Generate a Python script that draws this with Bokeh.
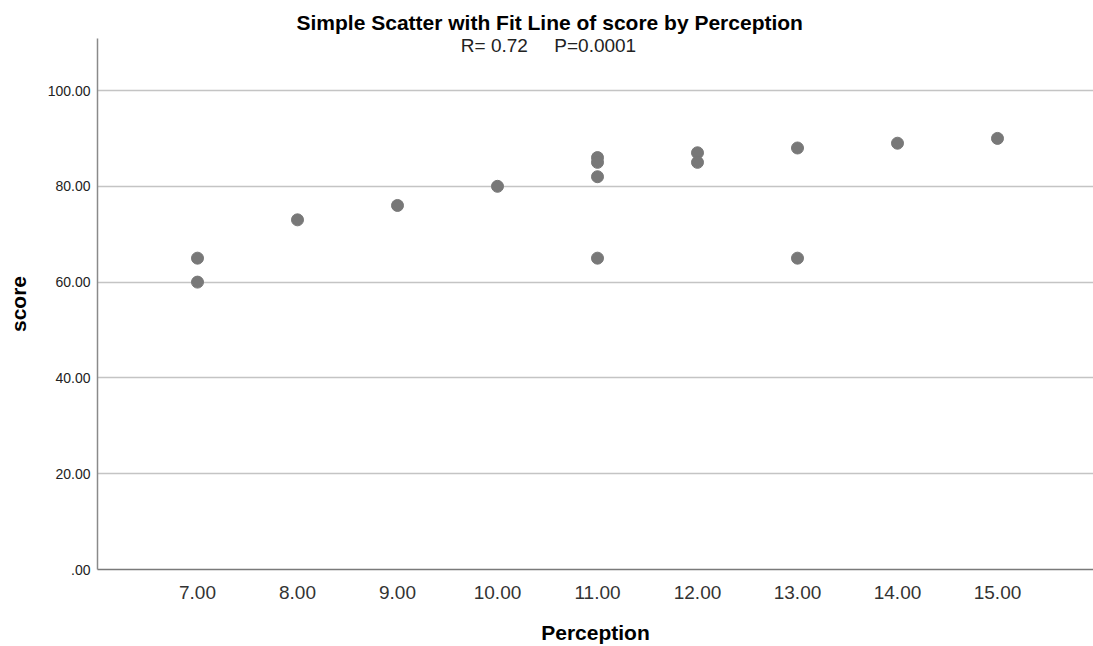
from bokeh.plotting import figure
from bokeh.models import Range1d, FixedTicker, Label, ColumnDataSource, Title
from bokeh.embed import file_html
from bokeh.resources import INLINE

# ---- data ----
perception = [7, 7, 8, 9, 10, 11, 11, 11, 11, 12, 12, 13, 13, 14, 15]
score = [65, 60, 73, 76, 80, 86, 85, 82, 65, 87, 85, 88, 65, 89, 90]

x_ticks = [7, 8, 9, 10, 11, 12, 13, 14, 15]
x_tick_labels = ["7.00", "8.00", "9.00", "10.00", "11.00", "12.00", "13.00", "14.00", "15.00"]
y_ticks = [0, 20, 40, 60, 80, 100]
y_tick_labels = [".00", "20.00", "40.00", "60.00", "80.00", "100.00"]

title_text = "Simple Scatter with Fit Line of score by Perception"
subtitle_text = "R= 0.72\u00a0\u00a0\u00a0\u00a0\u00a0P=0.0001"
x_label = "Perception"
y_label = "score"

FONT = "Liberation Sans"

p = figure(width=1093, height=646, output_backend="svg", toolbar_location=None,
           x_range=Range1d(6.0, 15.96), y_range=Range1d(0, 110.86))
p.min_border_left = 97
p.min_border_top = 38
p.min_border_right = 0
p.min_border_bottom = 77
p.outline_line_color = None
p.background_fill_color = "white"
p.border_fill_color = "white"

title = Title(text=title_text, align="left", offset=199, standoff=9,
              text_font=FONT, text_font_style="bold", text_font_size="21px",
              text_color="black")
p.title = title

src = ColumnDataSource(dict(x=perception, y=score))
p.scatter("x", "y", source=src, size=12, fill_color="#787878", line_color="#787878")

# x axis
xa = p.xaxis[0]
xa.ticker = FixedTicker(ticks=x_ticks)
xa.major_label_overrides = {t: l for t, l in zip(x_ticks, x_tick_labels)}
xa.major_tick_out = 0
xa.major_tick_in = 0
xa.minor_tick_out = 0
xa.minor_tick_in = 0
xa.axis_line_color = "#7a7a7a"
xa.axis_line_width = 1.5
xa.major_label_text_font = FONT
xa.major_label_text_font_size = "19px"
xa.major_label_text_color = "#333333"
xa.major_label_standoff = 16
xa.axis_label = x_label
xa.axis_label_text_font = FONT
xa.axis_label_text_font_style = "bold"
xa.axis_label_text_font_size = "21px"
xa.axis_label_text_color = "black"
xa.axis_label_standoff = 19

# y axis
ya = p.yaxis[0]
ya.ticker = FixedTicker(ticks=y_ticks)
ya.major_label_overrides = {t: l for t, l in zip(y_ticks, y_tick_labels)}
ya.major_tick_out = 0
ya.major_tick_in = 0
ya.minor_tick_out = 0
ya.minor_tick_in = 0
ya.axis_line_color = "#8a8a8a"
ya.axis_line_width = 1.5
ya.major_label_text_font = FONT
ya.major_label_text_font_size = "14px"
ya.major_label_text_color = "#222222"
ya.major_label_standoff = 7
ya.axis_label = y_label
ya.axis_label_text_font = FONT
ya.axis_label_text_font_style = "bold"
ya.axis_label_text_font_size = "21px"
ya.axis_label_text_color = "black"
ya.axis_label_standoff = 15

p.xgrid.grid_line_color = None
p.ygrid.ticker = FixedTicker(ticks=y_ticks[1:])
p.ygrid.grid_line_color = "#c4c4c4"
p.ygrid.grid_line_width = 1.5

p.add_layout(Label(x=10.51, y=109.4, text=subtitle_text, text_align="center",
                   text_baseline="middle", text_font=FONT,
                   text_font_size="19px", text_color="#222222"))

open("out.html", "w").write(file_html(p, INLINE))
